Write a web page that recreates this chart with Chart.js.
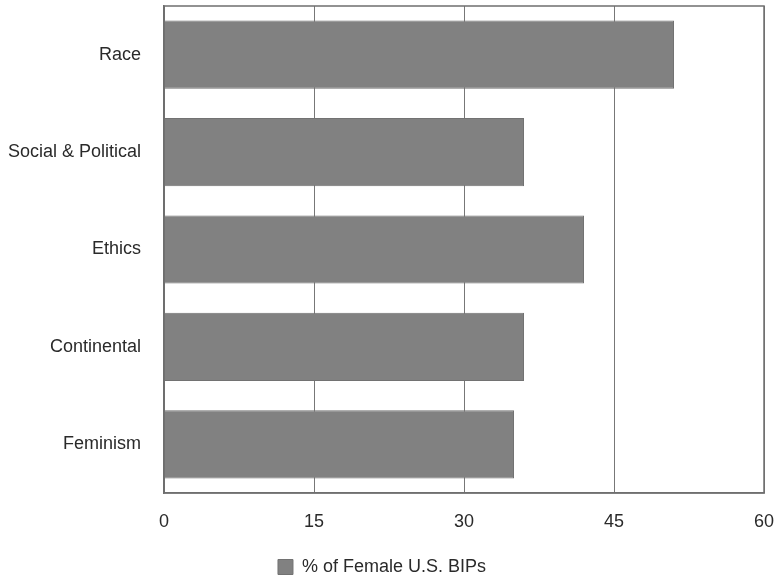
<!DOCTYPE html>
<html>
<head>
<meta charset="utf-8">
<script src="https://cdn.jsdelivr.net/npm/chart.js@4.4.1/dist/chart.umd.min.js"></script>
<style>
  html, body { margin: 0; padding: 0; background: #fff; }
  #wrap { width: 778px; height: 578px; }
</style>
</head>
<body>
<div id="wrap"><canvas id="c" width="778" height="578"></canvas></div>
<script>
// --- data ---
const categories = ["Race", "Social & Political", "Ethics", "Continental", "Feminism"];
const femaleShare = [51, 36, 42, 36, 35];
const xTicks = [0, 15, 30, 45, 60];
const seriesLabel = "% of Female U.S. BIPs";

const FONT = "'Liberation Sans', Arial, Helvetica, sans-serif";

// box round the plot area (top and right sides too)
const frame = {
  id: "frame",
  afterDraw(chart) {
    const a = chart.chartArea, c = chart.ctx;
    c.save();
    c.strokeStyle = "#6f6f6f";
    c.lineWidth = 1.5;
    c.strokeRect(a.left, a.top, a.right - a.left, a.bottom - a.top);
    c.restore();
  }
};

function noPad(s) {
  s.paddingTop = 0; s.paddingBottom = 0; s.paddingLeft = 0; s.paddingRight = 0;
}

new Chart(document.getElementById("c").getContext("2d"), {
  type: "bar",
  data: {
    labels: categories,
    datasets: [{
      label: seriesLabel,
      data: femaleShare,
      backgroundColor: "#818181",
      borderColor: "#727272",
      borderWidth: 1,
      categoryPercentage: 0.7,
      barPercentage: 1.0
    }]
  },
  options: {
    indexAxis: "y",
    responsive: false,
    animation: false,
    layout: { autoPadding: false, padding: { top: 6, right: 14, left: 0, bottom: -8 } },
    plugins: {
      legend: {
        position: "bottom",
        labels: {
          boxWidth: 15, boxHeight: 15, padding: 0,
          color: "#2a2a2a", font: { family: FONT, size: 18 }
        }
      },
      tooltip: { enabled: false }
    },
    scales: {
      x: {
        min: 0, max: 60,
        afterBuildTicks(s) { s.ticks = xTicks.map(v => ({ value: v })); },
        afterFit(s) { s.height = 65; noPad(s); },
        grid: { color: "#777", lineWidth: 1, drawTicks: false },
        border: { color: "#6f6f6f", width: 1.5 },
        ticks: { padding: 18, color: "#2a2a2a", font: { family: FONT, size: 18 } }
      },
      y: {
        afterFit(s) { s.width = 164; noPad(s); },
        grid: { display: false, drawTicks: false },
        border: { color: "#6f6f6f", width: 1.5 },
        ticks: { padding: 23, color: "#2a2a2a", font: { family: FONT, size: 18 } }
      }
    }
  },
  plugins: [frame]
});
</script>
</body>
</html>
